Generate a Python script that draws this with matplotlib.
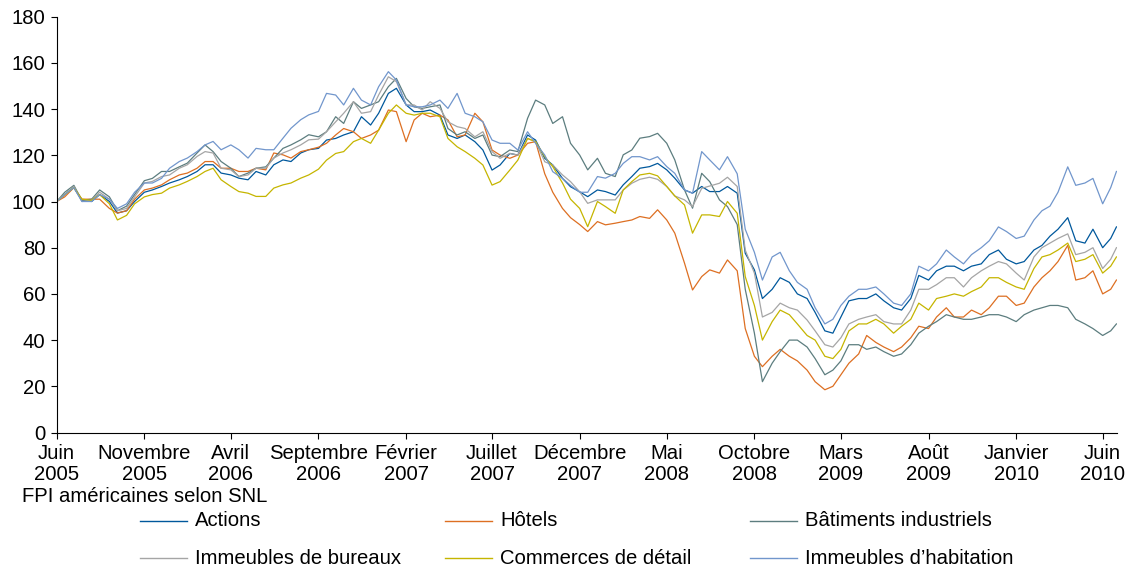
import pandas as pd
import numpy as np
import matplotlib
matplotlib.use("Agg")
import matplotlib.pyplot as plt
from matplotlib.lines import Line2D

plt.rcParams['font.family'] = ['Liberation Sans', 'DejaVu Sans']
FS = 14.6

# semi-monthly readings (1st and 15th), June 2005 -> mid June 2010, plus last day
dates = list(pd.date_range("2005-06-01", periods=122, freq="SMS")) + [pd.Timestamp("2010-06-25")]

actions = [100, 103, 106, 100.5, 100, 103, 100, 95, 96, 100, 104,
           105, 106.5, 108, 109.4, 110.8, 113, 115.9, 115.9, 112.3, 111.5,
           110.1, 109.4, 113, 111.5, 115.9, 118, 117.3, 121, 122.4, 123,
           126.6, 127.3, 128.8, 130.2, 136.7, 133.1, 138.2, 146.8, 149, 141.8,
           138.9, 138.9, 139.6, 137.4, 128.8, 127.3, 128.8, 125.9, 122.3, 113.6,
           115.8, 120.8, 120.1, 128.8, 126.6, 118.7, 115.8, 110, 106.4, 104.2,
           102.1, 105, 104.3, 102.8, 107.2, 110.8, 114.4, 115.1, 116.5, 113.7,
           110.1, 105, 103.6, 106.5, 104.3, 104.3, 106.5, 103.6, 77.6, 70.4,
           58, 62, 67, 65, 60, 58, 52, 44, 43,
           50, 57, 58, 58, 60, 57, 54, 53, 58, 68,
           66, 70, 72, 72, 70, 72, 73, 77, 79, 75,
           73, 74, 79, 81, 85, 88, 93, 83, 82, 88,
           80, 84, 89]

hotels = [100, 102, 106, 101, 101, 101, 97, 95, 96, 101, 105,
          105.8, 107.2, 109.4, 111.5, 112.3, 114.4, 117.3, 117.3, 114.4, 114.4,
          113, 113, 114.4, 113.7, 121, 120.2, 118.8, 121.6, 122.4, 123.5,
          125.2, 128.8, 131.6, 130.2, 127.3, 128.8, 130.9, 139.6, 138.9, 125.9,
          135.3, 138.2, 136.7, 137.4, 135.3, 128, 128.8, 138.2, 134.5, 122.3,
          120.1, 118.7, 120.1, 125.2, 125.9, 112, 104, 97, 93, 90,
          87, 91.3, 89.9, 90.6, 91.3, 92, 93.5, 92.7, 96.4, 92,
          86.3, 73.3, 61.7, 67.5, 70.4, 69, 74.7, 70, 45, 33,
          28.5, 33, 36, 33, 31, 27, 22, 18.5, 20,
          25, 30, 34, 42, 39, 37, 35, 37, 41, 46,
          45, 50, 54, 50, 50, 53, 51, 54, 59, 59,
          55, 56, 63, 67, 70, 74, 81, 66, 67, 70,
          60, 62, 66]

industriels = [100, 104, 107, 100.5, 101, 105, 102, 96, 98, 103, 109,
               110, 113, 113, 115, 116.6, 121, 124.5, 121.6, 117.3, 114.4,
               110.8, 112.3, 114.4, 115, 118.8, 123, 124.5, 126.7, 128.9, 128,
               130.2, 136.7, 133.8, 143.2, 140.3, 141.8, 143.2, 149.7, 153.3, 144.6,
               141, 140.3, 141, 141.8, 131.6, 128.8, 130.2, 127.3, 128.8, 120.1,
               119.4, 122.3, 121.6, 136, 143.9, 141.8, 133.8, 136.7, 125.2, 120.1,
               113.7, 118.7, 112.2, 110.8, 120.2, 122.3, 127.4, 128.1, 129.5, 125.2,
               118, 105, 97.1, 112.2, 108.6, 100.7, 97.8, 90, 62, 43,
               22, 30, 35, 40, 40, 37, 32, 25, 27,
               31, 38, 38, 36, 37, 35, 33, 34, 38, 43,
               46, 48, 51, 50, 49, 49, 50, 51, 51, 50,
               48, 51, 53, 54, 55, 55, 54, 49, 47, 45,
               42, 44, 47]

bureaux = [100, 103, 106.5, 100, 100.5, 104, 101, 96, 97, 102, 108,
           108.7, 110.8, 111.5, 114.4, 115.9, 119.5, 121.6, 121, 114.4, 113.7,
           110.8, 111.5, 114.4, 114.4, 118.8, 121, 122.4, 124.5, 126.7, 127,
           130.2, 134.5, 138.2, 143.2, 138.2, 138.9, 146.1, 154, 151.9, 141.8,
           141.8, 139.6, 143.2, 140.3, 134.5, 132.4, 131.6, 128, 130.2, 121.6,
           118.7, 120.8, 120.1, 127.3, 125.9, 117.2, 115.8, 111.5, 108.6, 104.2,
           99.2, 100.7, 100.7, 100.7, 105, 107.9, 109.6, 110.5, 109.6, 106.5,
           102.4, 100.7, 97.8, 105.7, 106.7, 107.9, 110.5, 106.5, 79, 69,
           50, 52, 56, 54, 53, 48.7, 44, 38, 37,
           41, 47, 49, 50, 51, 48, 47, 47, 53, 62,
           62, 64, 67, 67, 63, 67, 70, 72, 74, 73,
           69, 66, 76, 80, 82, 84, 86, 77, 78, 80,
           71, 75, 80]

commerces = [100, 103, 106, 101, 100.5, 103, 99, 92, 94, 99, 102,
             103, 103.6, 105.8, 107.2, 108.7, 110.8, 113, 114.4, 109.4, 106.5,
             104.3, 103.6, 102.2, 102.2, 105.8, 107.2, 108, 110.1, 111.5, 114,
             117.9, 120.8, 121.6, 125.9, 127.3, 125.2, 130.9, 138.2, 141.8, 138.2,
             137.4, 138.2, 138.2, 136.7, 127.3, 123.7, 121.6, 118.7, 115.8, 107.1,
             108.6, 113.6, 117.9, 127.3, 125.9, 119.4, 115.1, 108, 101, 97,
             89.1, 100, 97.8, 94.9, 105, 108.6, 111.5, 112.2, 111.1, 106.5,
             102.4, 98.5, 86.3, 94.2, 94.2, 93.5, 100, 94.9, 67.5, 55,
             40, 48, 53, 51, 47, 42, 40, 33, 32,
             36, 44, 47, 47, 49, 47, 43, 46, 49, 56,
             53, 58, 59, 60, 59, 61, 63, 67, 67, 65,
             63, 62, 71, 76, 77, 79, 82, 74, 75, 77,
             69, 72, 76]

habitation = [100, 103, 106, 100, 100, 103, 101, 97, 99, 104, 108,
              108, 110, 114.4, 117.3, 118.8, 121.6, 124.5, 126, 122.4, 124.5,
              122.4, 118.8, 123, 122.4, 122.4, 127.4, 131.7, 135.4, 137.5, 139,
              146.8, 146.1, 141.8, 149, 143.9, 141.8, 149.7, 156.2, 152.6, 141.8,
              141, 141, 141.8, 143.9, 140.3, 146.8, 138.2, 136.7, 134.5, 126.6,
              125.2, 125.2, 122.3, 130.2, 125.2, 120.1, 112.9, 110, 107, 104,
              104, 110.8, 110.1, 112.2, 116.5, 119.4, 119.4, 118, 119.4, 115.1,
              112.2, 105, 103.6, 121.6, 118, 113.7, 119.4, 112, 88, 78,
              66, 76, 78, 70, 65, 62, 54, 47, 49,
              55, 59, 62, 62, 63, 60, 56, 55, 60, 72,
              70, 73, 79, 76, 73, 77, 80, 83, 89, 87,
              84, 85, 92, 96, 98, 104, 115, 107, 108, 110,
              99, 106, 113]

labels = ["Actions", "Hôtels", "Bâtiments industriels",
          "Immeubles de bureaux", "Commerces de détail", "Immeubles d\u2019habitation"]
series = [actions, hotels, industriels, bureaux, commerces, habitation]
colors = ["#00589C", "#DD6F22", "#5C7D7F", "#A5A5A5", "#C5B500", "#7196CC"]

tickDates = pd.to_datetime(["2005-06-01", "2005-11-01", "2006-04-01", "2006-09-01",
                            "2007-02-01", "2007-07-01", "2007-12-01", "2008-05-01",
                            "2008-10-01", "2009-03-01", "2009-08-01", "2010-01-01",
                            "2010-06-01"])
tickLabels = ["Juin\n2005", "Novembre\n2005", "Avril\n2006", "Septembre\n2006",
              "Février\n2007", "Juillet\n2007", "Décembre\n2007", "Mai\n2008",
              "Octobre\n2008", "Mars\n2009", "Août\n2009", "Janvier\n2010",
              "Juin\n2010"]

W, H = 1133, 571
fig = plt.figure(figsize=(W / 100, H / 100), dpi=100)
ax = fig.add_axes([56.7 / W, 1 - 432.5 / H, (1117 - 56.7) / W, (432.5 - 16.7) / H])

for vals, col in zip(series, colors):
    ax.plot(dates, vals, color=col, linewidth=0.9)

ax.set_ylim(0, 180)
ax.set_yticks(np.arange(0, 181, 20))
ax.set_xlim(pd.Timestamp("2005-06-01"), pd.Timestamp("2010-06-26"))
ax.set_xticks(tickDates)
ax.set_xticklabels(tickLabels, linespacing=1.15)
ax.tick_params(axis="both", direction="out", length=4, width=0.8, labelsize=FS, colors="black")
ax.tick_params(axis="x", pad=4)
ax.tick_params(axis="y", pad=4)
for side in ["top", "right"]:
    ax.spines[side].set_visible(False)
for side in ["left", "bottom"]:
    ax.spines[side].set_linewidth(0.8)

# legend, laid out like the original (title on its own line, 3 columns x 2 rows)
fig.text(22 / W, 1 - 497 / H, "FPI américaines selon SNL", fontsize=FS, ha="left", va="center")
colX = [140, 445, 750]
rowY = [521, 558]
for k, (lab, col) in enumerate(zip(labels, colors)):
    x0 = colX[k % 3]
    y0 = rowY[k // 3]
    fig.add_artist(Line2D([x0 / W, (x0 + 47) / W], [1 - y0 / H, 1 - y0 / H],
                          color=col, linewidth=1.0, transform=fig.transFigure))
    fig.text((x0 + 55) / W, 1 - y0 / H, lab, fontsize=FS, ha="left", va="center")

fig.savefig("out.png", dpi=100)
